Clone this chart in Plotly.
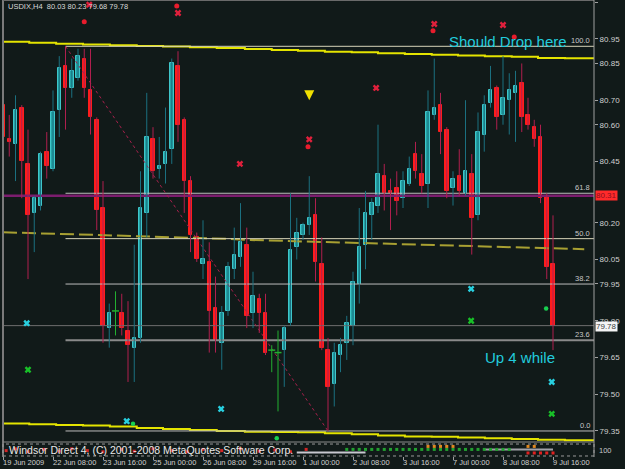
import plotly.graph_objects as go

# ---------------- data ----------------
open_ = [80.68, 80.54, 80.52, 80.67, 80.44, 80.24, 80.27, 80.49, 80.42, 80.66,
         80.84, 80.75, 80.79, 80.87, 80.74, 80.62, 80.26, 79.77, 79.84, 79.83,
         79.76, 79.69, 79.73, 80.24, 80.54, 80.42, 80.44, 80.50, 80.84, 80.62,
         80.37, 80.14, 80.03, 80.04, 79.85, 79.71, 79.84, 80.01, 80.06, 80.11,
         79.83, 79.89, 79.83, 79.68, 79.67, 79.68, 79.79, 80.10, 80.15, 80.19,
         80.23, 80.03, 79.68, 79.54, 79.66, 79.71, 79.78, 79.95, 80.11, 80.23,
         80.27, 80.39, 80.33, 80.34, 80.30, 80.36, 80.48, 80.40, 80.36, 80.64,
         80.68, 80.58, 80.34, 80.39, 80.32, 80.40, 80.23, 80.56, 80.69, 80.75,
         80.64, 80.70, 80.73, 80.77, 80.64, 80.59, 80.55, 80.31, 80.03]
high = [80.69, 80.64, 80.72, 80.68, 80.58, 80.31, 80.49, 80.57, 80.74, 80.88,
        80.92, 80.87, 80.91, 80.91, 80.91, 80.63, 80.37, 79.87, 79.92, 79.91,
        79.88, 80.11, 80.41, 80.73, 80.59, 80.55, 80.67, 80.87, 80.90, 80.63,
        80.39, 80.16, 80.21, 80.12, 79.98, 79.86, 80.04, 80.18, 80.28, 80.18,
        80.00, 79.91, 79.91, 79.70, 79.76, 79.78, 80.32, 80.22, 80.20, 80.39,
        80.30, 80.14, 79.73, 79.71, 79.73, 79.82, 80.00, 80.26, 80.33, 80.30,
        80.60, 80.44, 80.38, 80.41, 80.41, 80.47, 80.53, 80.48, 80.74, 80.87,
        80.73, 80.59, 80.41, 80.50, 80.70, 80.48, 80.65, 80.72, 80.84, 80.76,
        80.88, 80.81, 80.82, 80.85, 80.71, 80.62, 80.60, 80.32, 80.23]
low = [80.50, 80.47, 80.37, 80.30, 79.97, 80.08, 80.25, 80.38, 80.41, 80.55,
       80.58, 80.71, 80.78, 80.71, 80.56, 80.17, 79.71, 79.69, 79.74, 79.74,
       79.55, 79.55, 79.71, 80.14, 80.38, 80.38, 80.36, 80.44, 80.53, 80.24,
       80.08, 80.04, 79.97, 79.67, 79.67, 79.60, 79.82, 79.97, 80.02, 79.77,
       79.77, 79.75, 79.66, 79.59, 79.43, 79.53, 79.78, 80.05, 80.13, 80.15,
       79.96, 79.68, 79.35, 79.45, 79.59, 79.64, 79.70, 79.87, 80.01, 80.13,
       80.24, 80.25, 80.17, 80.23, 80.26, 80.35, 80.38, 80.32, 80.26, 80.62,
       80.48, 80.30, 80.27, 80.31, 80.31, 80.07, 80.21, 80.49, 80.67, 80.58,
       80.60, 80.56, 80.53, 80.57, 80.58, 80.51, 80.28, 79.97, 79.68]
close = [80.55, 80.53, 80.66, 80.45, 80.23, 80.30, 80.48, 80.43, 80.65, 80.83,
         80.75, 80.82, 80.88, 80.75, 80.63, 80.25, 79.78, 79.83, 79.84, 79.77,
         79.70, 79.73, 80.26, 80.55, 80.41, 80.43, 80.49, 80.85, 80.60, 80.37,
         80.15, 80.05, 80.05, 79.84, 79.72, 79.83, 80.02, 80.07, 80.12, 79.82,
         79.90, 79.83, 79.67, 79.68, 79.67, 79.77, 80.09, 80.16, 80.19, 80.22,
         80.04, 79.69, 79.53, 79.67, 79.70, 79.79, 79.96, 80.10, 80.24, 80.28,
         80.40, 80.32, 80.32, 80.29, 80.37, 80.42, 80.41, 80.35, 80.65, 80.67,
         80.57, 80.33, 80.38, 80.33, 80.41, 80.22, 80.57, 80.68, 80.74, 80.63,
         80.71, 80.74, 80.76, 80.63, 80.60, 80.54, 80.30, 80.02, 79.78]

time_labels = ["19 Jun 2009", "22 Jun 08:00", "23 Jun 16:00", "25 Jun 00:00",
               "26 Jun 08:00", "29 Jun 16:00", "1 Jul 00:00", "2 Jul 08:00",
               "3 Jul 16:00", "7 Jul 00:00", "8 Jul 08:00", "9 Jul 16:00"]
time_label_bars = [0, 8, 16, 24, 32, 40, 48, 56, 64, 72, 80, 88]

price_ticks = [81.10, 80.95, 80.85, 80.70, 80.60, 80.45, 80.20, 80.05, 79.95,
               79.80, 79.65, 79.50, 79.35]

# stepped envelope (yellow) lines
env_edges = [-0.5, 4.2, 8.5, 12.8, 17.1, 21.4, 25.6, 29.9, 34.2, 38.7, 43.0, 47.2,
             51.5, 55.8, 60.0, 64.3, 68.6, 72.8, 77.1, 81.4, 85.6, 89.9, 95.0]
env_upper = [80.939, 80.935, 80.930, 80.927, 80.924, 80.921, 80.919, 80.916, 80.913,
             80.909, 80.905, 80.902, 80.898, 80.896, 80.892, 80.889, 80.886, 80.882,
             80.879, 80.877, 80.872, 80.871]
env_lower = [79.381, 79.377, 79.374, 79.372, 79.368, 79.362, 79.358, 79.354, 79.350,
             79.347, 79.346, 79.345, 79.341, 79.337, 79.332, 79.328, 79.326, 79.323,
             79.320, 79.317, 79.314, 79.312]

# dashed olive middle line, one value every 3 bars
mid_bars = list(range(0, 96, 3))
mid_vals = [80.161, 80.158, 80.156, 80.154, 80.152, 80.150, 80.148, 80.146, 80.143,
            80.141, 80.139, 80.137, 80.134, 80.130, 80.128, 80.126, 80.124, 80.121,
            80.119, 80.117, 80.115, 80.113, 80.111, 80.109, 80.106, 80.104, 80.103,
            80.100, 80.097, 80.096, 80.093, 80.092]

fib_levels = [0.0, 23.6, 38.2, 50.0, 61.8, 100.0]
fib_start_bar, fib_end_bar = 10, 52
magenta_level = 80.31

# signal markers
red_x_bar = [13.8, 28.0, 69.0, 80.0, 59.7, 49.0, 37.9]
red_x_val = [81.09, 81.056, 81.011, 81.007, 80.75, 80.54, 80.44]
red_dot_bar = [13.0, 27.8, 48.8, 68.8, 81.8]
red_dot_val = [81.02, 81.085, 80.51, 80.983, 80.958]
arrow_bar = [49.0]
arrow_val = [80.70]
cyan_x_bar = [3.8, 19.8, 34.9, 74.9, 87.8]
cyan_x_val = [79.79, 79.39, 79.44, 79.93, 79.55]
green_x_bar = [4.0, 74.9, 87.8]
green_x_val = [79.60, 79.80, 79.42]
green_dot_bar = [20.8, 43.8, 86.9]
green_dot_val = [79.38, 79.32, 79.85]

# sub-window indicator rows
sub_green_bars = list(range(55, 82))
sub_orange_bars = [68, 69, 70, 71, 72, 84, 85]
sub_white_bars = [47, 48, 49, 50, 51, 52, 53, 54, 55, 56, 57, 58]
sub_gray_bars = [77, 78, 79, 80, 81, 82, 83, 84, 85, 86, 87, 88]
sub_red_bars = [84, 85, 86, 87, 88]
sub_red_text_bars = [0.5, 2, 4, 6.5, 9, 11, 13.5, 16, 19, 21, 24, 27, 29.5, 32, 35,
                     38, 41, 43.5, 46, 48.5]
sub_red_text_vals = [0.45, 0.6, 0.35, 0.55, 0.4, 0.6, 0.45, 0.35, 0.55, 0.4, 0.6,
                     0.45, 0.35, 0.55, 0.45, 0.6, 0.4, 0.5, 0.35, 0.55]

# ---------------- styling ----------------
BG = "#111a19"
BULL_FILL = "#22a3a5"
BULL_EDGE = "#3fc6ca"
BULL_WICK = "#1b7080"
BEAR_FILL = "#ff1c1c"
BEAR_WICK = "#b01f4e"
DOJI = "#22b030"
AX = "#d0d0d0"
FONT = "Liberation Sans"

fig = go.Figure()

n = len(open_)
bars = list(range(n))

fib_hi = high[fib_start_bar]
fib_lo = low[fib_end_bar]

# envelope lines
fig.add_trace(go.Scatter(x=env_edges, y=env_upper + [env_upper[-1]], mode="lines",
                         line=dict(color="#e4e400", width=2, shape="hv"), hoverinfo="skip"))
fig.add_trace(go.Scatter(x=env_edges, y=env_lower + [env_lower[-1]], mode="lines",
                         line=dict(color="#e4e400", width=2, shape="hv"), hoverinfo="skip"))

# middle dashed line
fig.add_trace(go.Scatter(x=mid_bars, y=mid_vals, mode="lines",
                         line=dict(color="#a8a032", width=2, dash="14px,5px"), hoverinfo="skip"))

# fibo levels
for lv in fib_levels:
    pv = fib_lo + lv / 100.0 * (fib_hi - fib_lo)
    col = "#d8d4b8" if lv in (100.0, 50.0) else ("#8a8a8a" if lv == 23.6 else "#bcbcbc")
    w = 2 if lv == 23.6 else 1
    fig.add_trace(go.Scatter(x=[fib_start_bar, 96], y=[pv, pv], mode="lines",
                             line=dict(color=col, width=w), hoverinfo="skip"))
    fig.add_annotation(x=0.996, xref="paper", y=pv, yref="y", text=f"{lv:.1f}",
                       showarrow=False, xanchor="right", yanchor="bottom", yshift=-1,
                       font=dict(family=FONT, size=7.5, color="#c8c8c8"))

# magenta line and bid line
fig.add_trace(go.Scatter(x=[-1, 96], y=[magenta_level, magenta_level], mode="lines",
                         line=dict(color="#7c1d6e", width=2.5), hoverinfo="skip"))
fig.add_trace(go.Scatter(x=[-1, 96], y=[close[-1], close[-1]], mode="lines",
                         line=dict(color="#6e6e6e", width=1), hoverinfo="skip"))

# fibo trend line
fig.add_trace(go.Scatter(x=[fib_start_bar, fib_end_bar], y=[fib_hi, fib_lo], mode="lines",
                         line=dict(color="#a8204c", width=1, dash="dot"), hoverinfo="skip"))

# wicks
def wick_xy(sel):
    xs, ys = [], []
    for i in sel:
        xs += [i, i, None]
        ys += [low[i], high[i], None]
    return xs, ys

bull = [i for i in bars if close[i] > open_[i]]
bear = [i for i in bars if close[i] < open_[i]]
doji = [i for i in bars if close[i] == open_[i]]

for sel, col in ((bull, BULL_WICK), (bear, BEAR_WICK), (doji, DOJI)):
    wx, wy = wick_xy(sel)
    fig.add_trace(go.Scatter(x=wx, y=wy, mode="lines", line=dict(color=col, width=1),
                             hoverinfo="skip"))

# bodies
fig.add_trace(go.Bar(x=bull, base=[open_[i] for i in bull],
                     y=[close[i] - open_[i] for i in bull], width=0.56,
                     marker=dict(color=BULL_FILL, line=dict(color=BULL_EDGE, width=1)),
                     hoverinfo="skip"))
fig.add_trace(go.Bar(x=bear, base=[close[i] for i in bear],
                     y=[open_[i] - close[i] for i in bear], width=0.56,
                     marker=dict(color=BEAR_FILL, line=dict(color=BEAR_FILL, width=1)),
                     hoverinfo="skip"))
fig.add_trace(go.Scatter(x=doji, y=[open_[i] for i in doji], mode="markers",
                         marker=dict(symbol="line-ew", size=5, line=dict(color=DOJI, width=1.5)),
                         hoverinfo="skip"))

# markers
fig.add_trace(go.Scatter(x=red_x_bar, y=red_x_val, mode="markers",
                         marker=dict(symbol="x", size=6, color="#e0203c"), hoverinfo="skip"))
fig.add_trace(go.Scatter(x=red_dot_bar, y=red_dot_val, mode="markers",
                         marker=dict(symbol="circle", size=5, color="#e81c2c"), hoverinfo="skip"))
fig.add_trace(go.Scatter(x=arrow_bar, y=arrow_val, mode="markers",
                         marker=dict(symbol="arrow-down", size=10, color="#f0e000"), hoverinfo="skip"))
fig.add_trace(go.Scatter(x=cyan_x_bar, y=cyan_x_val, mode="markers",
                         marker=dict(symbol="x", size=6, color="#28d0e0"), hoverinfo="skip"))
fig.add_trace(go.Scatter(x=green_x_bar, y=green_x_val, mode="markers",
                         marker=dict(symbol="x", size=6, color="#18c028"), hoverinfo="skip"))
fig.add_trace(go.Scatter(x=green_dot_bar, y=green_dot_val, mode="markers",
                         marker=dict(symbol="circle", size=4.5, color="#18d050"), hoverinfo="skip"))

# sub-window
fig.add_trace(go.Scatter(x=sub_white_bars, y=[0.3] * len(sub_white_bars), mode="lines",
                         line=dict(color="#c8c8d0", width=2), yaxis="y2", hoverinfo="skip"))
fig.add_trace(go.Scatter(x=sub_gray_bars, y=[0.55] * len(sub_gray_bars), mode="lines",
                         line=dict(color="#a0a0a8", width=2), yaxis="y2", hoverinfo="skip"))
fig.add_trace(go.Scatter(x=sub_green_bars, y=[0.55] * len(sub_green_bars), mode="markers",
                         marker=dict(symbol="square", size=3, color="#22a030"), yaxis="y2",
                         hoverinfo="skip"))
fig.add_trace(go.Scatter(x=sub_orange_bars, y=[0.8] * len(sub_orange_bars), mode="markers",
                         marker=dict(symbol="square", size=3, color="#e08820"), yaxis="y2",
                         hoverinfo="skip"))
fig.add_trace(go.Scatter(x=sub_red_bars, y=[0.25] * len(sub_red_bars), mode="markers",
                         marker=dict(symbol="square", size=3, color="#e02020"), yaxis="y2",
                         hoverinfo="skip"))

sub_text = "Windsor Direct 4, (C) 2001-2008 MetaQuotes Software Corp."
fig.add_annotation(x=0.006, xref="paper", y=0.5, yref="y2", text=sub_text, showarrow=False,
                   xanchor="left", yanchor="middle",
                   font=dict(family=FONT, size=10.5, color="#e8e8e8"))
fig.add_trace(go.Scatter(x=sub_red_text_bars, y=sub_red_text_vals, mode="markers",
                         marker=dict(symbol="square", size=3, color="#e82828", opacity=0.9),
                         yaxis="y2", hoverinfo="skip"))
fig.add_annotation(x=1, xref="paper", y=0.5, yref="y2", text="100", showarrow=False,
                   xanchor="left", yanchor="middle", xshift=3,
                   font=dict(family=FONT, size=7.5, color="#c8c8c8"))

# header and comments
fig.add_annotation(x=0.005, xref="paper", y=0.985, yref="paper",
                   text="USDIX,H4  80.03 80.23 79.68 79.78", showarrow=False,
                   xanchor="left", yanchor="middle",
                   font=dict(family=FONT, size=7.5, color="#d8d8d8"))
fig.add_annotation(x=80.8, y=80.94, text="Should Drop here", showarrow=False,
                   xanchor="center", yanchor="middle",
                   font=dict(family=FONT, size=15, color="#22ccdd"))
fig.add_annotation(x=82.7, y=79.65, text="Up 4 while", showarrow=False,
                   xanchor="center", yanchor="middle",
                   font=dict(family=FONT, size=15, color="#22ccdd"))

# price labels on the axis
fig.add_annotation(x=1, xref="paper", y=magenta_level, yref="y", text="80.31", showarrow=False,
                   xanchor="left", yanchor="middle", xshift=1, bgcolor="#ff2a2a",
                   borderpad=0, font=dict(family=FONT, size=8, color="#8a1020"))
fig.add_annotation(x=1, xref="paper", y=close[-1], yref="y", text=f"{close[-1]:.2f}",
                   showarrow=False, xanchor="left", yanchor="middle", xshift=1, yshift=-1,
                   bgcolor="#f4f4f4", borderpad=0,
                   font=dict(family=FONT, size=8, color="#404040"))

# time labels
for b, t in zip(time_label_bars, time_labels):
    fig.add_annotation(x=b, xref="x", y=-0.011, yref="paper", text=t, showarrow=False,
                       xanchor="left", yanchor="middle", xshift=-2,
                       font=dict(family=FONT, size=7.5, color=AX))

# frame shapes
shapes = [
    dict(type="line", xref="paper", yref="paper", x0=0, x1=0, y0=0, y1=1,
         line=dict(color="#7a7a7a", width=2)),
    dict(type="line", xref="paper", yref="paper", x0=0, x1=1, y0=1, y1=1,
         line=dict(color="#6a6a6a", width=2)),
    dict(type="line", xref="paper", yref="paper", x0=1, x1=1, y0=0, y1=1,
         line=dict(color="#a0a0a0", width=1)),
    dict(type="line", xref="paper", yref="y domain", x0=0, x1=1, y0=0, y1=0,
         line=dict(color="#8a8a8a", width=1)),
    dict(type="rect", xref="paper", yref="y2 domain", x0=0, x1=1, y0=0, y1=1,
         line=dict(color="#9a9a9a", width=1, dash="dot")),
]

fig.update_layout(
    width=625, height=469,
    margin=dict(l=3, r=31, t=0, b=12),
    paper_bgcolor=BG, plot_bgcolor=BG,
    showlegend=False, barmode="overlay", bargap=0,
    shapes=shapes,
    xaxis=dict(range=[0, 94.56], showgrid=False, zeroline=False, showline=False,
               tickvals=time_label_bars, ticktext=[""] * len(time_label_bars),
               ticks="outside", ticklen=3, tickcolor="#a0a0a0", anchor="y2"),
    yaxis=dict(domain=[0.0328, 1.0], range=[79.305, 81.109], side="right",
               showgrid=False, zeroline=False, showline=False,
               tickvals=price_ticks, ticktext=[f"{v:.2f}" for v in price_ticks],
               ticks="outside", ticklen=3, tickcolor="#a0a0a0",
               tickfont=dict(family=FONT, size=8, color=AX)),
    yaxis2=dict(domain=[0.0022, 0.0284], range=[0, 1], showgrid=False, zeroline=False,
                showticklabels=False, showline=False),
)

fig.write_html("out.html")
